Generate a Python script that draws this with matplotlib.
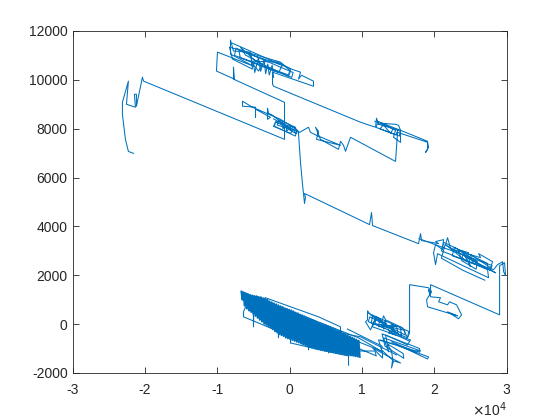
import matplotlib
matplotlib.use('Agg')
import matplotlib.pyplot as plt

plt.rcParams['font.family'] = ['Liberation Sans', 'DejaVu Sans']
plt.rcParams['path.simplify'] = False

# left part, long diagonals and the upper clusters
x_upper = [-21570, -22270, -22680, -23100, -23100, -22270, -22540, -21300, -21440, -21160, -21160, -20330, -20190,
           -690, -690, -7745, -7745, -7610, -10100, -9960,
           -4980, -8160, -8160, -7745, -5390, -5120, -7880, -8300, -1245, 140, -140, -4700, -6780, -6085, -3735,
           -4290, -5390, -1660, 275, 1520, 1245, 1660, 3320, 3320, -2350, -2350, -2210,
           9820, 11895, 12030, 12310, 12170, 14245, 15350, 15075, 14660, 12585, 14660, 14380, 15350, 15350,
           19085, 19085, 18810, 19225, 19085, 14935, 14660,
           8435, 7745, 7470, 7055, 6775, 4285, 3595, 4010, 3735, 7055, 3735, 2905, 2630,
           1385, 550, -1935, -2210, 140, 830, -1660, -2350, -2905, -3040, -3040, -2630, -4700, -4700, -4700,
           -6500, -6500, -5120, -1245, 970, 1245]
y_upper = [6990, 7070, 7560, 8590, 9080, 9950, 9000, 8880, 9410, 9410, 8920, 10110, 9950,
           7565, 9080, 10030, 10520, 10030, 10360, 11135,
           10560, 11055, 11630, 11180, 11135, 10440, 10850, 11340, 10725, 10360, 10150, 10770, 11340, 11015, 10645,
           10360, 10770, 10725, 10440, 10315, 10030, 10190, 9945, 9740, 10315, 9825, 9740,
           8265, 8060, 8430, 8180, 8305, 8060, 7935, 8140, 8180, 8225, 7935, 7650, 7440, 7935,
           7485, 7155, 7030, 7235, 7445, 7850, 6660,
           7650, 7075, 7320, 7485, 7155, 7565, 8060, 7895, 7565, 7320, 7730, 7850, 8060,
           7850, 8060, 8265, 8100, 7810, 8060, 8385, 8550, 8635, 8840, 8385, 8470, 8800, 8470, 8880,
           8920, 9125, 8880, 8385, 7975, 7810]

# drop in the middle and the cluster near the right edge
x_right = [1520, 1800, 2075, 2210, 2075, 11065, 11340, 11480, 17840, 18115, 18255,
           20610, 20190, 21300, 21160, 20190, 19915, 20190, 20470, 27520, 27380, 23650, 23370, 24755, 24480,
           21575, 21850, 22270, 26420, 26140, 28075, 27800, 25030, 25310, 28210, 28765, 29460, 29600, 29870,
           29735, 29045, 29045,
           19500, 19500, 19225, 19500, 20880, 20610, 21850, 22130, 23095, 23790, 23370, 21850, 23235,
           19085, 18950, 19640, 19225, 16600, 16600]
y_right = [6620, 5720, 4940, 5185, 5350, 4075, 4570, 4035, 3295, 3705, 3420,
           3295, 3380, 3460, 3050, 3255, 2925, 2435, 2885, 1900, 2230, 2720, 3050, 2925, 2560,
           3255, 3540, 3090, 2720, 2885, 2560, 2310, 2845, 2515, 2230, 2435, 2555, 2145, 1985,
           2515, 2395, 380,
           1615, 1205, 1410, 1120, 1080, 915, 790, 915, 790, 380, 220, 505, 340,
           710, 1000, 1325, 1490, 1615, -355]

# sparse strands right of the dense band
x_lower = [16320, 15630, 13280, 13000, 12725, 11200, 10790, 10790, 10510, 11200, 11895, 11480, 14660, 14380, 13690,
           16735, 16320, 13280, 13550, 13690, 13000, 18115, 17150, 14105, 19085, 19225, 14660, 12310, 12725,
           14245, 14105, 14380, 15350, 11480, 12860, 12860, 9540]
y_lower = [-560, -150, 175, 340, 55, 380, 545, 175, 95, -235, 260, -110, -440, -235, -355,
           -645, -850, -440, -850, -1135, -560, -1095, -1095, -725, -1425, -1340, -850, -645, -1055,
           -1465, -1795, -1505, -1590, -970, -1385, -1135, -560]

# dense band
x_band = [-6640, -6500, -6350, -6200, -6050, -5900, -5750, -5600, -5450, -5300, -5150, -5000, -4850, -4700, -4550,
          -4400, -4250, -4100, -3950, -3800, -3650, -3500, -3350, -3200, -3050, -2900, -2750, -2600, -2450, -2300,
          -2150, -2000, -1850, -1700, -1550, -1400, -1250, -1100, -950, -800, -650, -500, -350, -200, -50,
          100, 250, 400, 550, 700, 850, 1000, 1150, 1300, 1450, 1600, 1750, 1900, 2050, 2200,
          2350, 2500, 2650, 2800, 2950, 3100, 3250, 3400, 3550, 3700, 3850, 4000, 4150, 4300, 4450,
          4600, 4750, 4900, 5050, 5200, 5350, 5500, 5650, 5800, 5950, 6100, 6250, 6400, 6550, 6700,
          6850, 7000, 7150, 7300, 7450, 7600, 7750, 7900, 8050, 8200, 8350, 8500, 8650, 8800, 8950,
          9100, 9250, 9400, 9550, 9700]
y_band = [1330, 1000, 1300, 760, 1260, 640, 1230, 560, 1190, 500, 1170, 420, 1150, 340, 1140,
          260, 1110, 180, 1100, 110, 1060, 20, 1030, -30, 1000, -90, 930, -140, 890, -210,
          850, -290, 810, -340, 770, -410, 730, -450, 700, -490, 650, -550, 620, -580, 590,
          -610, 560, -650, 520, -680, 470, -720, 440, -750, 390, -790, 360, -830, 320, -860,
          280, -900, 240, -930, 200, -960, 170, -990, 130, -1010, 90, -1030, 50, -1050, 20,
          -1070, -20, -1090, -50, -1100, -90, -1120, -130, -1130, -160, -1150, -200, -1170, -250, -1190,
          -280, -1210, -320, -1230, -370, -1240, -420, -1260, -470, -1270, -510, -1280, -550, -1290, -590,
          -1310, -640, -1320, -680, -1340]

# spikes and outline strands around the band
x_tail = [8160, 8160, 5700, 140, 140, -6360, -6360, -6100, -3320, 4010, 7055, 7055, 9820, 14800]
y_tail = [-1680, -1300, -1150, -770, -500, 300, 505, 700, 1080, 300, -110, -360, -520, -1260]

# extra back-and-forth strands inside the clusters
x_top = [-7900, 140, -150, -7600, -7400, 500, 300, -6800, -7000, -1000, -1500, -5000, -4800, -4300, -4000, -3500,
         -3300, -3000, -2800, -2400, -2200]
y_top = [11500, 10450, 10200, 11000, 11300, 10300, 10100, 10900, 11200, 10600, 10300, 10700, 10300, 10900, 10350,
         10800, 10250, 10650, 10200, 10600, 10100]
x_mid = [-2200, 1000, 800, -2100, -1900, 900, 600, -1700, -1500, 300, -1000, -900, -500, -400, 100]
y_mid = [8400, 7900, 7700, 8100, 8300, 7800, 7950, 8150, 8350, 7900, 8250, 8000, 8150, 7900, 8050]
x_ur = [11800, 15300, 15200, 12000, 12100, 15000, 14700, 12500, 13000, 14000, 14300]
y_ur = [8300, 7900, 7700, 8050, 8200, 7950, 7750, 8000, 8150, 7800, 8000]
x_rc = [17900, 28000, 27800, 21000, 21300, 27300, 27500, 22500, 22800, 26000, 25800, 23800, 24000, 25000, 24800,
        28500, 26500, 21500, 21000, 24000, 27000]
y_rc = [3500, 2400, 2200, 3000, 3350, 2500, 2250, 2800, 3150, 2550, 2250, 2600, 2950, 2350, 2700,
        2100, 2400, 3250, 2700, 2200, 1800]
x_lc = [10900, 16500, 16300, 10900, 11100, 16000, 15900, 11300, 11500, 15500, 15300, 11800, 12000, 15000, 14800,
        12300, 12500, 14400, 14300, 13000, 13200, 13800, 16600]
y_lc = [450, -300, -560, 100, 300, -450, -250, 50, 350, -500, -100, 0, 300, -400, -100,
        -100, 200, -300, 0, -200, 150, -300, -700]
x_strand = [12600, 18000, 18000, 12800, 13200, 15800, 15700, 13500, 14100, 14300]
y_strand = [-650, -1150, -1000, -400, -900, -1400, -1200, -800, -1100, -1500]
x_end = [8000, 12800, 12700, 8500, 8800, 12000, 11800, 9300]
y_end = [-200, -900, -1100, -600, -900, -1300, -1100, -1100]
x_spike = [-5000, -4980, -4900, -1600, -1520, -1450, 100, 140, 200, 2600, 2630, 2700, 5350, 5400, 5450]
y_spike = [800, -110, 800, 200, -560, 200, 0, -770, 0, -300, -1050, -300, -500, -1180, -500]

x_ticks = [-30000, -20000, -10000, 0, 10000, 20000, 30000]
x_labels = ['-3', '-2', '-1', '0', '1', '2', '3']
y_ticks = [-2000, 0, 2000, 4000, 6000, 8000, 10000, 12000]
y_labels = ['-2000', '0', '2000', '4000', '6000', '8000', '10000', '12000']

x_all = x_upper + x_right + x_lower + x_band[:1]
y_all = y_upper + y_right + y_lower + y_band[:1]

fig = plt.figure(figsize=(5.6, 4.2), dpi=100)
ax = fig.add_axes([72.5/560, 47/420, 434/560, 342/420])
ax.plot(x_all, y_all, color='#0072BD', lw=0.75)
# the band is a tight zigzag, a wider stroke closes the gaps between its passes
ax.plot(x_band, y_band, color='#0072BD', lw=1.5)
for xs, ys in [(x_tail, y_tail), (x_top, y_top), (x_mid, y_mid), (x_ur, y_ur), (x_rc, y_rc), (x_lc, y_lc),
               (x_strand, y_strand), (x_end, y_end), (x_spike, y_spike)]:
    ax.plot(xs, ys, color='#0072BD', lw=0.75)
ax.set_xlim(-30000, 30000)
ax.set_ylim(-2000, 12000)
ax.set_xticks(x_ticks, x_labels)
ax.set_yticks(y_ticks, y_labels)
ax.tick_params(direction='in', length=4, width=0.6, colors='#262626', labelsize=10, top=True, right=True)
ax.tick_params(axis='x', pad=7)
for s in ax.spines.values():
    s.set_linewidth(0.6)
    s.set_color('#262626')
ax.text(1.0, -0.108, r'$\times$10$^{4}$', transform=ax.transAxes, ha='right', va='center',
        fontsize=10, color='#262626')

fig.savefig('out.png', dpi=100)
